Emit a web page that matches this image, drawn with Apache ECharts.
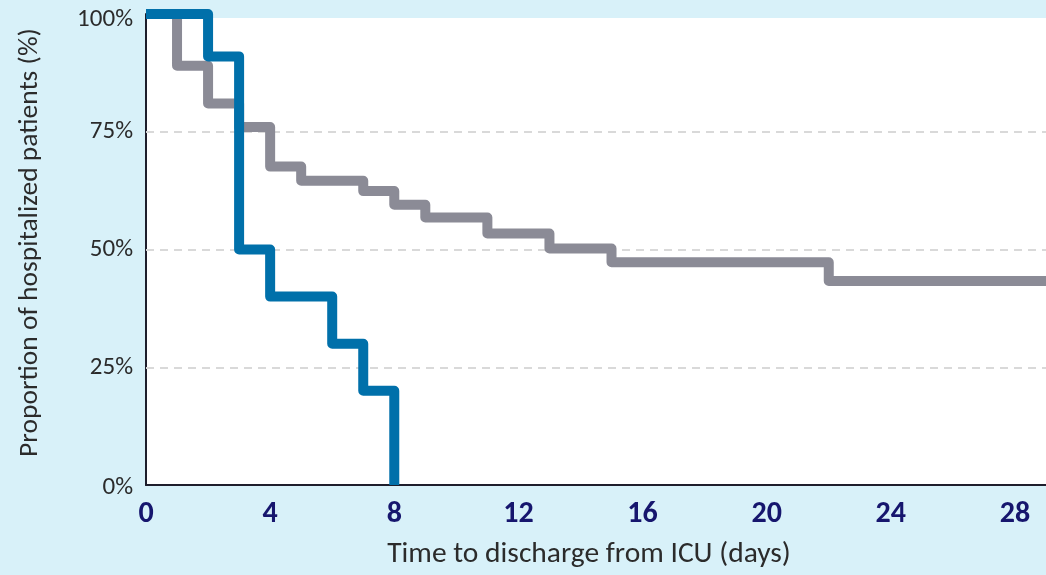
<!DOCTYPE html>
<html>
<head>
<meta charset="utf-8">
<script src="https://cdn.jsdelivr.net/npm/echarts@6/dist/echarts.min.js"></script>
<style>
html,body{margin:0;padding:0;background:#d8f1f9;}
#c{width:1046px;height:575px;}
</style>
</head>
<body>
<div id="c"></div>
<script>
// Data
const greyDays   = [0, 1, 2, 3, 4, 5, 7, 8, 9, 11, 13, 15, 22, 29];
const greyValues = [100, 89, 81, 76, 67.6, 64.6, 62.4, 59.5, 56.8, 53.4, 50.2, 47.3, 43.3, 43.3];
const blueDays   = [0, 2, 3, 4, 6, 7, 8];
const blueValues = [100, 91, 50, 40, 30, 20, 0];
const xTicks = [0, 4, 8, 12, 16, 20, 24, 28];
const yTicks = [0, 25, 50, 75, 100];
const gridValues = [25, 50, 75];

const zip = (a, b) => a.map((d, i) => [d, b[i]]);
const font = "Carlito, 'Open Sans', sans-serif";
const bg = '#d8f1f9';

const chart = echarts.init(document.getElementById('c'));
chart.setOption({
  backgroundColor: bg,
  animation: false,
  grid: {left: 146, top: 14, right: 0, bottom: 90, show: true, backgroundColor: '#ffffff', borderWidth: 0},
  graphic: [{type: 'rect', left: 146, top: 14, shape: {width: 900, height: 4}, style: {fill: bg}, z: 1, silent: true}],
  xAxis: {
    type: 'value', min: 0, max: 29, interval: 4,
    name: 'Time to discharge from ICU (days)', nameLocation: 'middle', nameGap: 55,
    nameTextStyle: {fontFamily: font, fontSize: 29.5, color: '#2b2b2b', padding: [0, 14, 0, 0]},
    axisLine: {lineStyle: {color: '#1e1e2c', width: 2}},
    axisTick: {show: false},
    splitLine: {show: false},
    axisLabel: {
      showMaxLabel: false, margin: 14,
      fontFamily: font, fontWeight: 'bold', fontSize: 30, color: '#16166e',
      formatter: v => xTicks.includes(v) ? String(v) : ''
    }
  },
  yAxis: {
    type: 'value', min: 0, max: 100, interval: 25,
    name: 'Proportion of hospitalized patients (%)', nameLocation: 'middle', nameGap: 102,
    nameTextStyle: {fontFamily: font, fontSize: 27.5, color: '#2b2b2b', padding: [0, 0, 0, 14]},
    axisLine: {show: true, lineStyle: {color: '#1e1e2c', width: 2}},
    axisTick: {show: false},
    splitLine: {show: false},
    axisLabel: {
      margin: 13, fontFamily: font, fontSize: 25, color: '#2b2b2b',
      formatter: v => yTicks.includes(v) ? (v === 100 ? '{t|100%}' : v === 0 ? '{b|0%}' : v + '%') : '',
      rich: {
        t: {fontFamily: font, fontSize: 25, color: '#2b2b2b', padding: [12, 0, 0, 0]},
        b: {fontFamily: font, fontSize: 25, color: '#2b2b2b', padding: [6, 0, 0, 0]}
      }
    }
  },
  series: [
    {
      type: 'line', step: 'end', data: zip(greyDays, greyValues), showSymbol: false, clip: false,
      lineStyle: {color: '#8b8b96', width: 10, join: 'round', cap: 'butt'}, z: 3,
      markLine: {
        silent: true, symbol: 'none', label: {show: false}, z: 2,
        lineStyle: {color: '#d9d9d9', type: [8, 6], width: 2},
        data: gridValues.map(v => ({yAxis: v}))
      }
    },
    {
      type: 'line', step: 'end', data: zip(blueDays, blueValues), showSymbol: false, clip: false,
      lineStyle: {color: '#0070aa', width: 10, join: 'round', cap: 'butt'}, z: 4
    }
  ]
});
</script>
</body>
</html>
